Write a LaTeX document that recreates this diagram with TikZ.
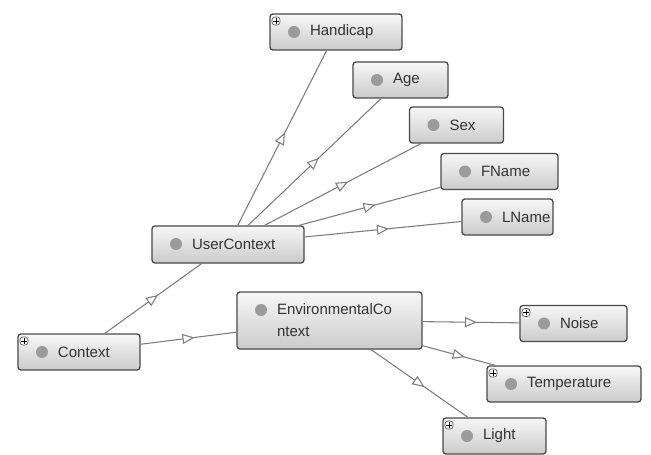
\documentclass[tikz,border=0pt]{standalone}
\usepackage{fontspec}
\setmainfont{Liberation Sans}
\usetikzlibrary{arrows.meta,decorations.markings}
\definecolor{boxline}{HTML}{4A4A4A}
\definecolor{boxtop}{HTML}{F7F7F7}
\definecolor{boxbot}{HTML}{CBCBCB}
\definecolor{dotgray}{HTML}{9B9B9B}
\definecolor{edgegray}{HTML}{7C7C7C}
\newcommand{\ind}{\hspace*{1.2cm}}

\begin{document}
\begin{tikzpicture}[x=0.03cm, y=-0.03cm]
  \tikzstyle{every node}=[font=\fontsize{12.8}{18.8}\selectfont, text=black!80]
  \tikzstyle{cls}=[draw=boxline, line width=1.1pt, rounded corners=2.5pt, top color=boxtop, bottom color=boxbot,
    inner xsep=0pt, inner ysep=0pt, align=left, minimum height=1.08cm,
    path picture={\fill[dotgray] ([xshift=0.72cm, yshift=-0.54cm]path picture bounding box.north west) circle (0.18cm);}]
  \tikzstyle{xcls}=[cls,
    path picture={\fill[dotgray] ([xshift=0.72cm, yshift=-0.54cm]path picture bounding box.north west) circle (0.18cm);
      \draw[boxline, line width=0.5pt, fill=white] ([xshift=0.06cm, yshift=-0.09cm]path picture bounding box.north west) rectangle ++(0.24cm, -0.24cm);
      \draw[black, line width=0.6pt] ([xshift=0.18cm, yshift=-0.13cm]path picture bounding box.north west) -- ++(0, -0.16cm)
        ([xshift=0.1cm, yshift=-0.21cm]path picture bounding box.north west) -- ++(0.16cm, 0);}]
  \tikzstyle{isa}=[draw=edgegray, line width=0.9pt, postaction={decorate},
    decoration={markings, mark=at position 0.5 with {\arrow[xshift=0.18cm]{Triangle[length=0.36cm, width=0.3cm, fill=white]}}}]

  \path[use as bounding box, fill=white] (0, 0) rectangle (651, 455);

  \node[xcls, text width=3.96cm] (handicap) at (336, 32) {\ind Handicap};
  \node[cls, text width=2.85cm] (age) at (400.5, 80) {\ind Age};
  \node[cls, text width=2.82cm] (sex) at (456.5, 125) {\ind Sex};
  \node[cls, text width=3.51cm] (fname) at (499.5, 171.5) {\ind FName};
  \node[cls, text width=2.73cm] (lname) at (507.5, 217) {\ind LName};

  \node[cls, text width=4.56cm, minimum height=1.11cm] (user) at (228, 244.5) {\ind UserContext};
  \node[xcls, text width=3.66cm] (context) at (79, 352) {\ind Context};
  \node[cls, text width=5.55cm, minimum height=1.71cm] (env) at (329.5, 320.5) {\ind EnvironmentalCo\\ \ind ntext};

  \node[xcls, text width=3.21cm] (noise) at (573.5, 323.5) {\ind Noise};
  \node[xcls, text width=4.62cm] (temp) at (564, 384) {\ind Temperature};
  \node[xcls, text width=3.09cm] (light) at (494.5, 436) {\ind Light};

  \draw[isa] (user) -- (handicap);
  \draw[isa] (user) -- (age);
  \draw[isa] (user) -- (sex);
  \draw[isa] (user) -- (fname);
  \draw[isa] (user) -- (lname);

  \draw[isa] (context) -- (user);
  \draw[isa] (context) -- (env);

  \draw[isa] (env) -- (noise);
  \draw[isa] (env) -- (temp);
  \draw[isa] (env) -- (light);

\end{tikzpicture}
\end{document}
